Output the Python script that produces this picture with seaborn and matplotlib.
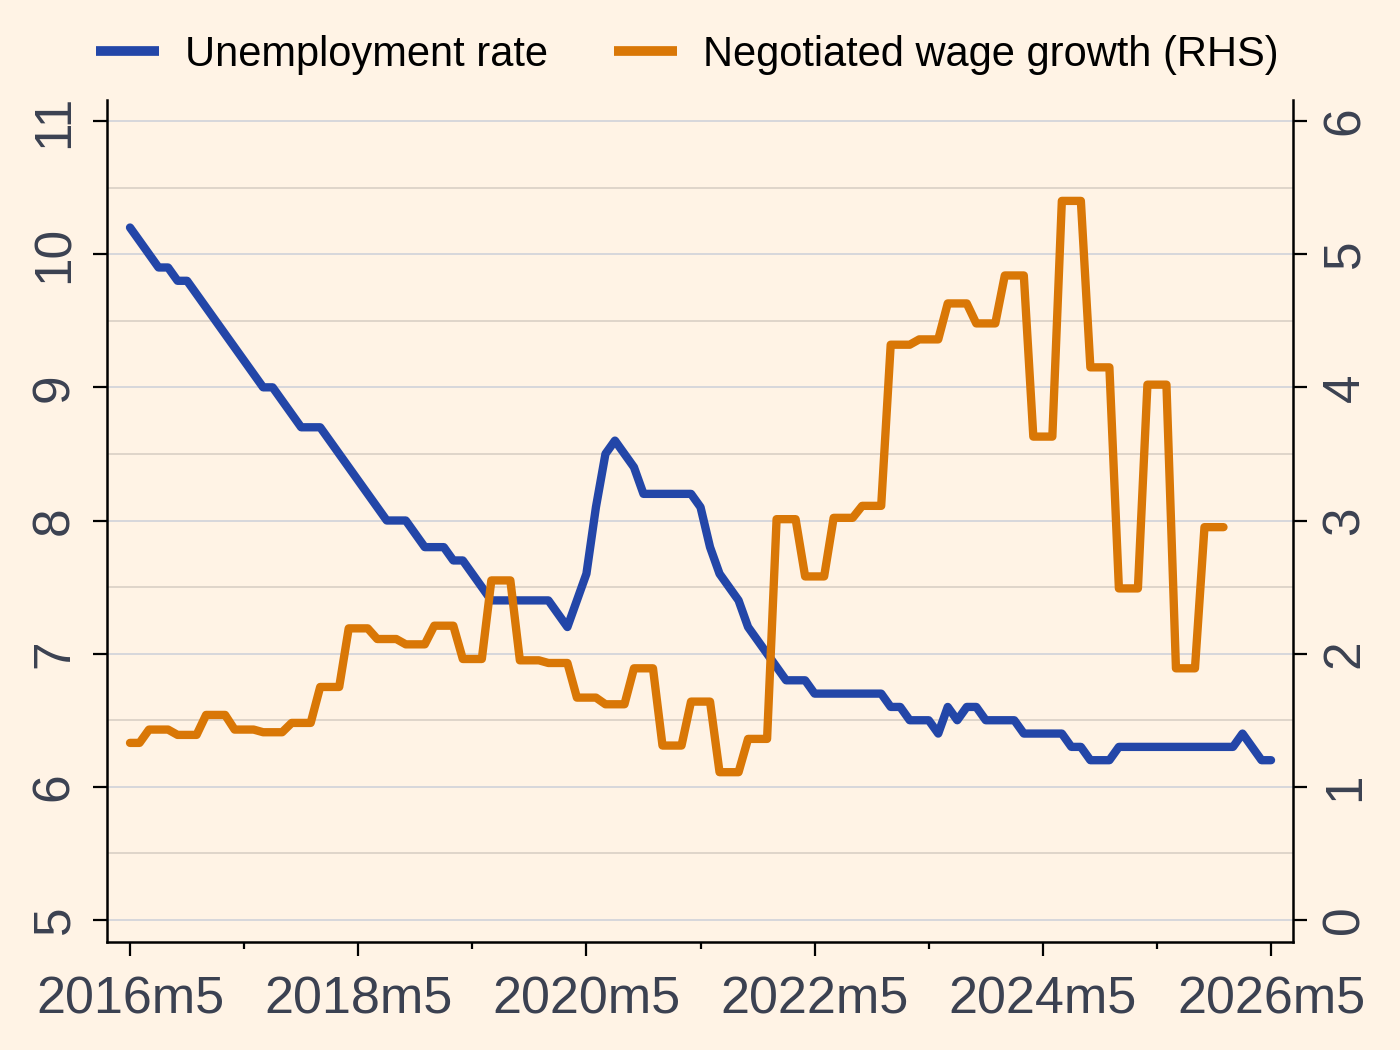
import numpy as np
import pandas as pd
import matplotlib
matplotlib.use("Agg")
import matplotlib.pyplot as plt
from matplotlib.lines import Line2D
import seaborn as sns

# ---------------- data (monthly, index 0 = 2016m5) ----------------
unemployment_rate = [
    10.2, 10.1, 10.0, 9.9, 9.9, 9.8, 9.8, 9.7, 9.6, 9.5,
    9.4, 9.3, 9.2, 9.1, 9.0, 9.0, 8.9, 8.8, 8.7, 8.7,
    8.7, 8.6, 8.5, 8.4, 8.3, 8.2, 8.1, 8.0, 8.0, 8.0,
    7.9, 7.8, 7.8, 7.8, 7.7, 7.7, 7.6, 7.5, 7.4, 7.4,
    7.4, 7.4, 7.4, 7.4, 7.4, 7.3, 7.2, 7.4, 7.6, 8.1,
    8.5, 8.6, 8.5, 8.4, 8.2, 8.2, 8.2, 8.2, 8.2, 8.2,
    8.1, 7.8, 7.6, 7.5, 7.4, 7.2, 7.1, 7.0, 6.9, 6.8,
    6.8, 6.8, 6.7, 6.7, 6.7, 6.7, 6.7, 6.7, 6.7, 6.7,
    6.6, 6.6, 6.5, 6.5, 6.5, 6.4, 6.6, 6.5, 6.6, 6.6,
    6.5, 6.5, 6.5, 6.5, 6.4, 6.4, 6.4, 6.4, 6.4, 6.3,
    6.3, 6.2, 6.2, 6.2, 6.3, 6.3, 6.3, 6.3, 6.3, 6.3,
    6.3, 6.3, 6.3, 6.3, 6.3, 6.3, 6.3, 6.4, 6.3, 6.2,
    6.2,
]

negotiated_wage_growth = [
    1.33, 1.33, 1.43, 1.43, 1.43, 1.39, 1.39, 1.39, 1.54, 1.54,
    1.54, 1.43, 1.43, 1.43, 1.41, 1.41, 1.41, 1.48, 1.48, 1.48,
    1.75, 1.75, 1.75, 2.19, 2.19, 2.19, 2.11, 2.11, 2.11, 2.07,
    2.07, 2.07, 2.21, 2.21, 2.21, 1.96, 1.96, 1.96, 2.55, 2.55,
    2.55, 1.95, 1.95, 1.95, 1.93, 1.93, 1.93, 1.67, 1.67, 1.67,
    1.62, 1.62, 1.62, 1.89, 1.89, 1.89, 1.31, 1.31, 1.31, 1.64,
    1.64, 1.64, 1.11, 1.11, 1.11, 1.36, 1.36, 1.36, 3.01, 3.01,
    3.01, 2.58, 2.58, 2.58, 3.02, 3.02, 3.02, 3.11, 3.11, 3.11,
    4.32, 4.32, 4.32, 4.36, 4.36, 4.36, 4.63, 4.63, 4.63, 4.48,
    4.48, 4.48, 4.84, 4.84, 4.84, 3.63, 3.63, 3.63, 5.40, 5.40,
    5.40, 4.15, 4.15, 4.15, 2.49, 2.49, 2.49, 4.02, 4.02, 4.02,
    1.89, 1.89, 1.89, 2.95, 2.95, 2.95,
]

x_tick_months = [0, 24, 48, 72, 96, 120]
x_tick_labels = ["2016m5", "2018m5", "2020m5", "2022m5", "2024m5", "2026m5"]
x_minor_months = [12, 36, 60, 84, 108]
left_ticks = [5, 6, 7, 8, 9, 10, 11]
right_ticks = [0, 1, 2, 3, 4, 5, 6]
series_labels = ["Unemployment rate", "Negotiated wage growth (RHS)"]

df_u = pd.DataFrame({"month": np.arange(len(unemployment_rate)), "value": unemployment_rate})
df_w = pd.DataFrame({"month": np.arange(len(negotiated_wage_growth)), "value": negotiated_wage_growth})

# ---------------- style ----------------
BG = "#FFF3E5"
BLUE = "#2346A8"
ORANGE = "#D97706"
TICK_COL = "#3B4151"

sns.set_style("white")
plt.rcParams["font.family"] = ["Liberation Sans", "DejaVu Sans"]
plt.rcParams["axes.unicode_minus"] = False

fig = plt.figure(figsize=(14, 10.5), dpi=100, facecolor=BG)
ax = fig.add_axes([107 / 1400, 1 - 942 / 1050, (1293 - 107) / 1400, (942 - 100) / 1050])
ax.set_facecolor(BG)
ax2 = ax.twinx()
ax2.patch.set_visible(False)

LW = 6.0
sns.lineplot(data=df_u, x="month", y="value", ax=ax, color=BLUE, linewidth=LW,
             solid_capstyle="round", solid_joinstyle="round", legend=False)
sns.lineplot(data=df_w, x="month", y="value", ax=ax2, color=ORANGE, linewidth=LW,
             solid_capstyle="round", solid_joinstyle="round", legend=False)

ax.set_xlim(-2.42, 122.31)
ax.set_ylim(5 - 22 / 133.2, 11 + 21 / 133.2)
ax2.set_ylim(0 - 22 / 133.2, 6 + 21 / 133.2)

ax.set_xlabel("")
ax.set_ylabel("")
ax2.set_ylabel("")

# ticks
ax.set_xticks(x_tick_months)
ax.set_xticklabels(x_tick_labels)
ax.set_xticks(x_minor_months, minor=True)
ax.set_yticks(left_ticks)
ax.set_yticklabels([str(v) for v in left_ticks])
ax.set_yticks(np.arange(5.5, 11, 1.0), minor=True)
ax2.set_yticks(right_ticks)
ax2.set_yticklabels([str(v) for v in right_ticks])

ax.tick_params(axis="x", which="major", length=10, width=1.6, color="black",
               labelsize=37.5, labelcolor=TICK_COL, pad=14, direction="out", bottom=True)
ax.tick_params(axis="x", which="minor", length=5, width=1.6, color="black", bottom=True)
ax.tick_params(axis="y", which="major", length=10, width=1.6, color="black",
               labelsize=37, labelcolor=TICK_COL, pad=10, direction="out", left=True)
ax.tick_params(axis="y", which="minor", length=0, left=False)
ax2.tick_params(axis="y", which="major", length=10, width=1.6, color="black",
                labelsize=37, labelcolor=TICK_COL, pad=10, direction="out", right=True)

for lab in ax.get_yticklabels():
    lab.set_rotation(90)
    lab.set_va("center")
for lab in ax2.get_yticklabels():
    lab.set_rotation(90)
    lab.set_va("center")

# grid
ax.grid(False)
ax2.grid(False)
ax.yaxis.grid(True, which="major", color="#D3D4DA", linewidth=1.3)
ax.yaxis.grid(True, which="minor", color="#DCD2C8", linewidth=1.3)
ax.set_axisbelow(True)

# spines
for a in (ax, ax2):
    a.spines["top"].set_visible(False)
    for s in ("left", "right", "bottom"):
        a.spines[s].set_linewidth(1.8)
        a.spines[s].set_color("black")
ax.spines["right"].set_visible(False)
ax2.spines["left"].set_visible(False)
ax2.spines["bottom"].set_visible(False)

# legend
handles = [Line2D([0], [0], color=BLUE, linewidth=7, solid_capstyle="butt"),
           Line2D([0], [0], color=ORANGE, linewidth=7, solid_capstyle="butt")]
fig.legend(handles, series_labels, loc="center", bbox_to_anchor=(0.491, 0.948),
           ncol=2, frameon=False, fontsize=30, handlelength=1.5,
           handletextpad=0.62, columnspacing=1.6, labelcolor="black")

fig.savefig("out.png", dpi=100, facecolor=BG)
